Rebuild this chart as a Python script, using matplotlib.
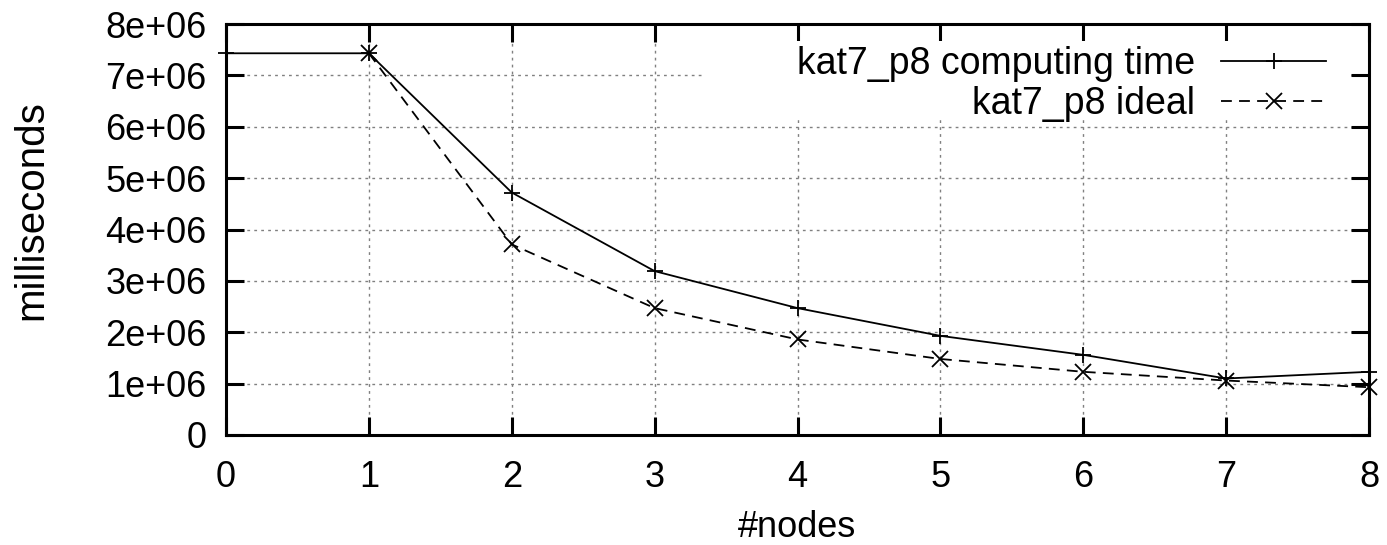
import matplotlib
matplotlib.use("Agg")
import matplotlib.pyplot as plt
from matplotlib.patches import Rectangle

# data
nodes_comp = [0, 1, 2, 3, 4, 5, 6, 7, 8]
comp_time = [7.43e6, 7.43e6, 4.72e6, 3.19e6, 2.47e6, 1.93e6, 1.56e6, 1.10e6, 1.23e6]
nodes_ideal = [1, 2, 3, 4, 5, 6, 7, 8]
ideal_time = [7.43e6, 3.71e6, 2.47e6, 1.86e6, 1.48e6, 1.23e6, 1.06e6, 0.93e6]
yticks = [0, 1e6, 2e6, 3e6, 4e6, 5e6, 6e6, 7e6, 8e6]
ytick_labels = ["0", "1e+06", "2e+06", "3e+06", "4e+06", "5e+06", "6e+06", "7e+06", "8e+06"]

plt.rcParams['font.family'] = ['Liberation Sans', 'DejaVu Sans']
FS = 26
W, H = 1387, 545

fig = plt.figure(figsize=(W / 100, H / 100), dpi=100)
ax = fig.add_axes([226 / W, 1 - 435 / H, 1143 / W, 411 / H])

ax.plot(nodes_comp, comp_time, color='black', lw=1.3, marker='+', ms=11,
        mew=1.3, clip_on=False, zorder=3, label='kat7_p8 computing time')
ax.plot(nodes_ideal, ideal_time, color='black', lw=1.3, ls=(0, (6, 4)), marker='x',
        ms=11, mew=1.3, clip_on=False, zorder=3, label='kat7_p8 ideal')

ax.set_xlim(0, 8)
ax.set_ylim(0, 8e6)
ax.set_xticks(range(9))
ax.set_yticks(yticks)
ax.set_yticklabels(ytick_labels)
ax.grid(True, color='#808080', ls=(0, (2, 3)), lw=1)
ax.tick_params(direction='in', length=13, width=2.2, labelsize=FS,
               top=True, right=True, pad=14)
ax.tick_params(axis='x', pad=18)
for s in ax.spines.values():
    s.set_linewidth(2.2)

# gnuplot-style key: blank box over the grid, text right-aligned before samples
ax.add_patch(Rectangle((703 / W, 1 - 119 / H), 647 / W, 78 / H, transform=fig.transFigure,
                       facecolor='white', edgecolor='none', zorder=1.6))
ax.legend(loc='upper right', bbox_to_anchor=(1326 / W, 1 - 46 / H),
          bbox_transform=fig.transFigure, borderaxespad=0, borderpad=0,
          markerfirst=False, fontsize=27, handlelength=2.8, handletextpad=0.7,
          labelspacing=0.12, frameon=False)

ax.set_xlabel('#nodes', fontsize=FS)
ax.xaxis.label.set_va('baseline')
ax.xaxis.set_label_coords(0.5, -(537 - 435) / 411)
ax.set_ylabel('milliseconds', fontsize=29, va='center')
ax.yaxis.set_label_coords(-(226 - 31) / 1143, (435 - 210) / 411)

fig.savefig('out.png', dpi=100)
